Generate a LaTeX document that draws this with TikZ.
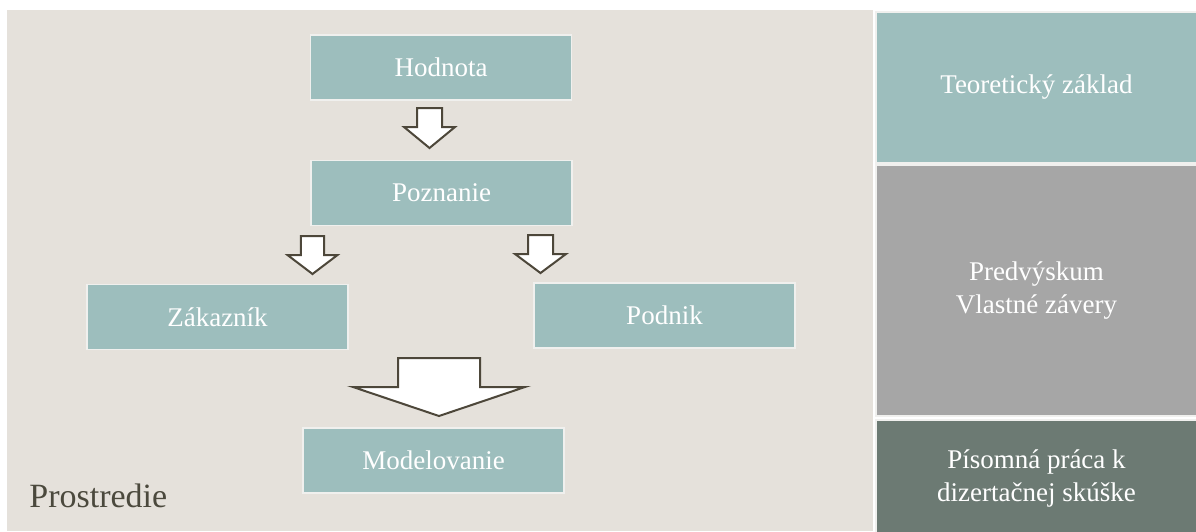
\documentclass[tikz,border=0pt]{standalone}
\usepackage{fontspec}
\setmainfont{Liberation Serif}
\definecolor{canvas}{HTML}{E5E1DB}
\definecolor{tealbox}{HTML}{9DBEBD}
\definecolor{greybox}{HTML}{A6A6A6}
\definecolor{slatebox}{HTML}{6C7A73}
\definecolor{rim}{HTML}{F0F0EE}
\definecolor{arrowline}{HTML}{4D473A}
\definecolor{labeltext}{HTML}{4B493D}
\tikzset{
  stepbox/.style={rectangle, fill=tealbox, draw=rim, line width=0.8pt,
    minimum width=130.5pt, minimum height=32.5pt, inner sep=0pt,
    text=white, font=\fontsize{13.5}{16}\selectfont},
  panel/.style={rectangle, draw=rim, line width=1pt, anchor=north west,
    minimum width=160.5pt, inner sep=0pt, align=center,
    text=white, font=\fontsize{13.5}{16.5}\selectfont},
  pics/blockarrow/.style args={#1/#2/#3/#4}{code={
    \draw[arrowline, fill=white, line width=1pt, line join=miter]
      (-#1,0) -- (#1,0) -- (#1,#3) -- (#2,#3) -- (0,#3+#4)
      -- (-#2,#3) -- (-#1,#3) -- cycle;
  }}
}
\begin{document}
\begin{tikzpicture}[x=0.5pt, y=-0.5pt]
  % page and canvas
  \fill[white] (0,0) rectangle (1196,531);
  \useasboundingbox (0,0) rectangle (1196,531);
  \fill[canvas] (7,10) rectangle (873,531);

  % flow boxes
  \node[stepbox] (hod) at (441,67.5)   {Hodnota};
  \node[stepbox] (poz) at (441.5,193)  {Poznanie};
  \node[stepbox] (zak) at (217.5,317)  {Zákazník};
  \node[stepbox] (pod) at (664.5,315.5){Podnik};
  \node[stepbox] (mod) at (433.5,460.5){Modelovanie};

  % block arrows between the boxes
  \pic at (429.5,108) {blockarrow={12.5/25.5/19/21}};
  \pic at (312.5,236) {blockarrow={11.7/25/19/19}};
  \pic at (540.5,235) {blockarrow={12.5/25.5/19/19}};
  \pic at (439,358)   {blockarrow={41/86/29/29}};

  % environment label
  \node[anchor=base west, inner sep=0pt, text=labeltext,
        font=\fontsize{17}{20}\selectfont] (env) at (29,507) {Prostredie};

  % right-hand column
  \node[panel, fill=tealbox, minimum height=75.5pt] (teo) at (875,11)
    {Teoretický základ};
  \node[panel, fill=greybox, minimum height=125.5pt] (pre) at (875,164)
    {Predvýskum\\Vlastné závery};
  \node[panel, fill=slatebox, minimum height=58pt] (pis) at (875,419)
    {Písomná práca k\\dizertačnej skúške};
\end{tikzpicture}
\end{document}
